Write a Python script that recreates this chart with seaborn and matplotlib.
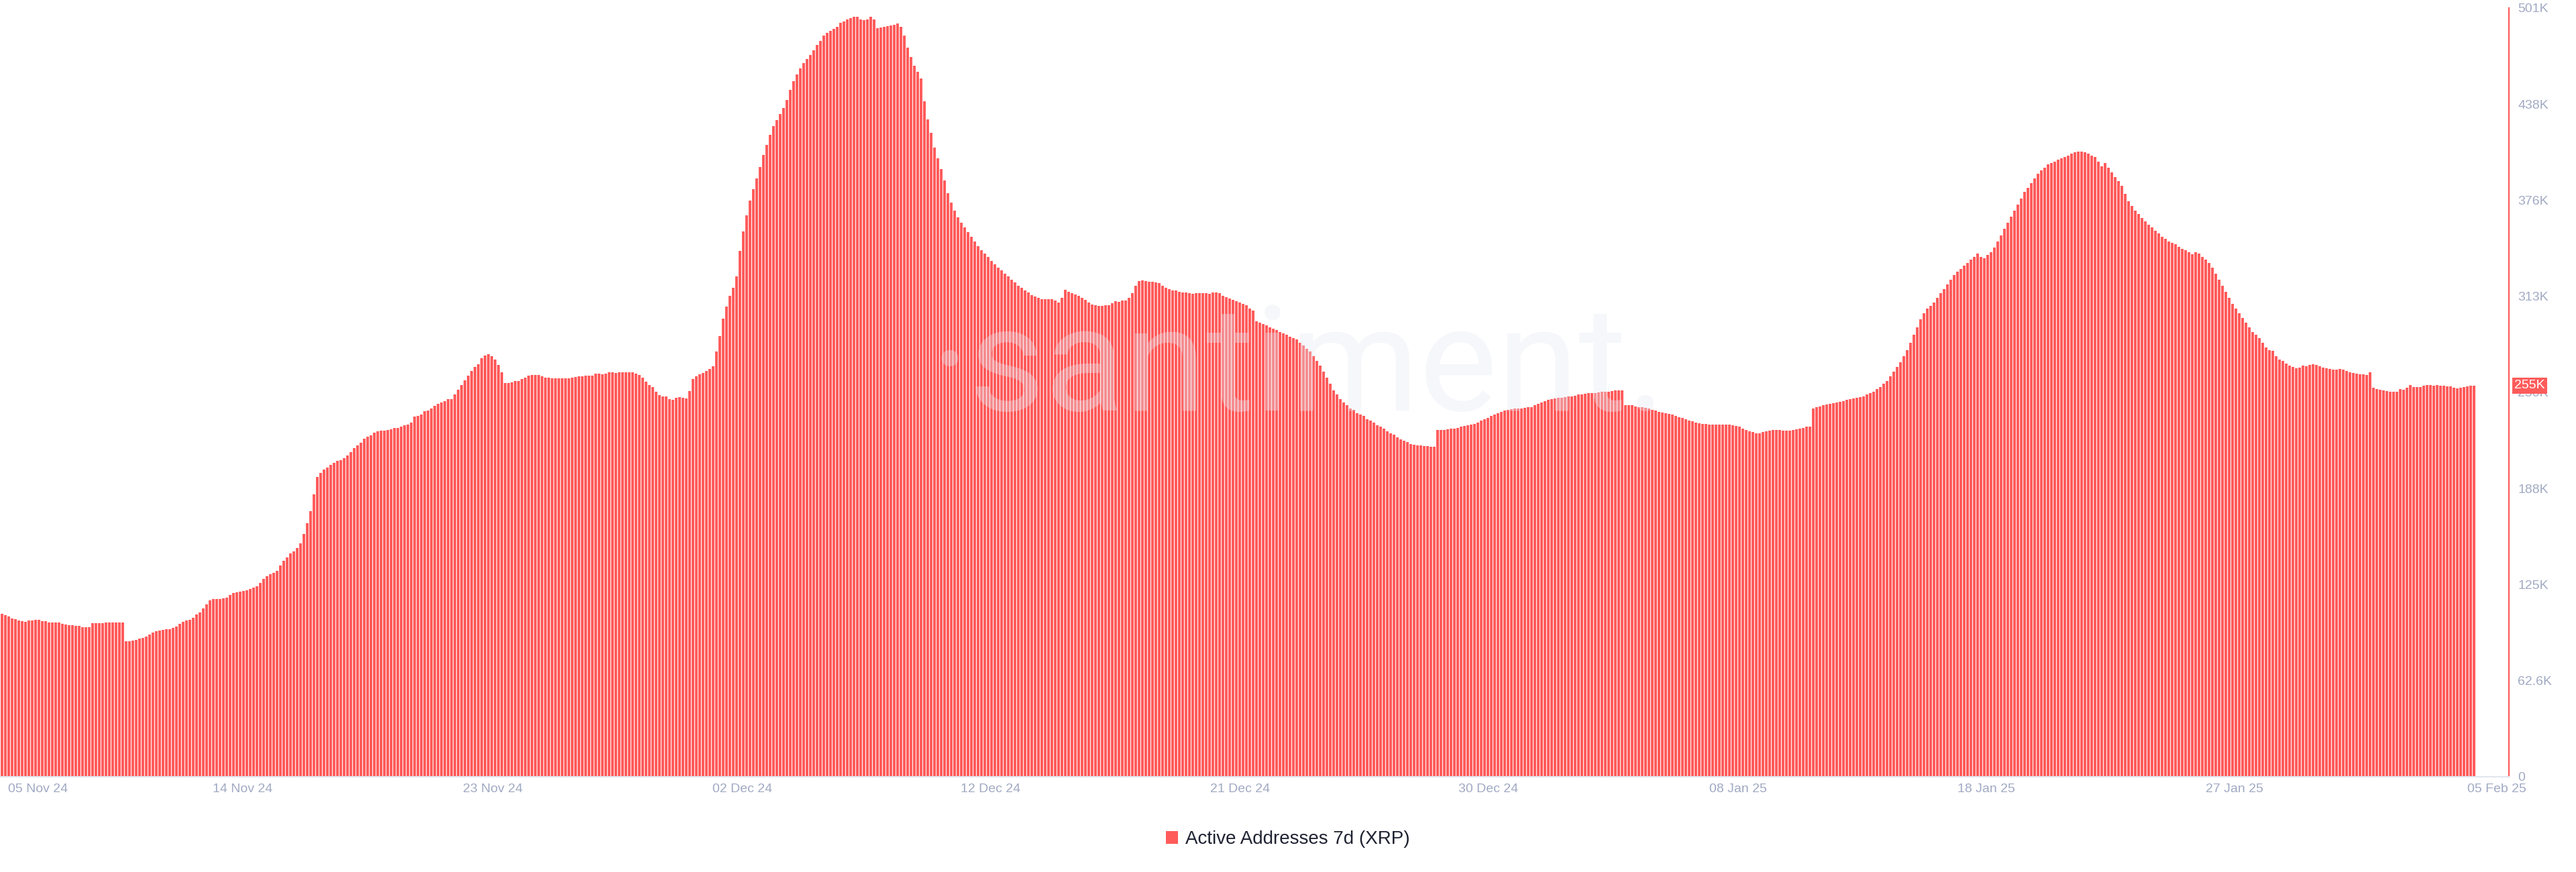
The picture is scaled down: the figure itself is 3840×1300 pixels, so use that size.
import numpy as np
import matplotlib
matplotlib.use('Agg')
import matplotlib.pyplot as plt
import matplotlib.transforms as mtransforms
from matplotlib.patches import Patch
import seaborn as sns

# Active addresses 7d (XRP), 3-hour bars, values in thousands
nov_early = [106.2, 105.5, 104.4, 103.3, 102.6, 101.7, 101.3, 100.8, 101.7, 102.0,
             102.1, 102.1, 101.4, 101.4, 100.6, 100.6, 100.7, 100.7, 99.8, 99.1,
             98.7, 98.8, 98.4, 98.4, 97.6, 97.6, 97.6, 100.0, 100.0, 100.0,
             100.3, 100.4, 100.4, 100.4, 100.4, 100.4, 100.7, 88.3, 88.4, 88.9,
             89.3, 89.9, 90.5, 91.5, 92.7, 94.1, 94.9, 95.5, 95.9, 96.0,
             96.3, 96.9, 98.1, 99.7, 101.0, 101.7, 102.4, 103.6, 105.8, 107.1,
             109.9, 112.5, 114.8]
nov_mid = [115.7, 115.7, 115.7, 116.3, 116.9, 118.6, 119.8, 120.1, 120.8, 121.2,
           121.7, 122.3, 123.3, 124.0, 126.2, 129.0, 130.6, 131.9, 133.1, 134.2,
           137.9, 140.9, 143.1, 145.4, 146.8, 149.2, 152.3, 158.3, 165.1, 173.3,
           184.2, 195.6, 198.2, 200.1, 201.7, 203.4, 204.5, 205.8, 206.4, 207.7,
           209.6, 211.5, 214.2, 215.8, 217.9, 220.2, 221.8, 222.7, 224.2, 225.2,
           225.6, 225.5, 226.2, 226.6, 227.5, 227.5, 228.1, 229.0, 229.7, 230.8,
           234.6, 235.1]
nov_late = [236.1, 238.1, 238.9, 239.9, 241.6, 243.1, 244.0, 244.8, 246.3, 246.3,
            249.2, 252.3, 255.3, 258.4, 261.6, 264.5, 267.1, 268.9, 272.8, 274.6,
            275.4, 274.0, 272.1, 268.6, 263.5, 256.8, 256.8, 257.1, 257.8, 258.0,
            259.1, 260.3, 261.3, 262.0, 261.9, 261.7, 261.0, 260.1, 260.0, 259.7,
            259.7, 259.5, 259.7, 259.7, 259.7, 260.3, 260.6, 261.0, 261.0, 261.3,
            261.3, 261.6, 262.6, 262.9, 262.3, 262.9, 263.5, 263.5, 263.2, 263.4,
            263.5, 263.5]
dec_rise = [263.5, 263.6, 262.6, 262.0, 260.0, 257.4, 255.5, 253.9, 250.8, 248.6,
            247.9, 247.9, 246.0, 245.7, 246.9, 247.5, 246.9, 246.4, 251.3, 259.1,
            261.0, 262.2, 263.2, 264.5, 265.7, 267.7, 277.2, 287.2, 298.5, 306.3,
            313.6, 318.9, 326.2, 342.8, 355.3, 365.8, 375.4, 383.0, 390.0, 397.3,
            405.3, 412.0, 418.3, 424.0, 428.0, 432.1, 435.9, 441.0, 447.7, 453.4,
            457.9, 461.8, 465.0, 467.9, 470.3, 473.3, 476.8, 479.7, 483.0, 484.9,
            486.0]
dec_peak = [487.3, 488.7, 491.4, 492.3, 493.5, 494.5, 495.2, 495.2, 493.5, 493.0,
            493.5, 495.2, 493.5, 488.0, 488.3, 488.9, 489.4, 489.5, 490.2, 490.8,
            488.8, 483.2, 475.4, 469.0, 463.3, 459.5, 455.0, 440.3, 428.3, 419.6,
            410.2, 403.1, 396.0, 388.8, 380.4, 374.2, 369.0, 364.6, 361.0, 358.0,
            355.0, 352.0, 349.0, 346.0, 343.0, 341.0, 339.0, 336.0, 334.0, 332.0,
            330.0, 328.0, 326.0, 324.0, 322.0, 320.0, 318.5, 317.0, 315.5, 314.0,
            313.0, 312.0]
dec_mid = [311.4, 311.3, 311.4, 311.1, 310.4, 309.0, 312.2, 317.3, 316.0, 315.2,
           314.2, 313.3, 312.2, 310.8, 309.1, 307.8, 307.2, 306.9, 306.8, 307.4,
           307.5, 308.7, 310.1, 309.5, 310.2, 310.5, 312.0, 315.2, 320.2, 323.0,
           323.5, 323.1, 322.8, 322.5, 322.1, 321.6, 320.2, 318.7, 317.8, 317.1,
           316.8, 316.2, 315.8, 315.5, 315.1, 314.8, 315.1, 315.1, 315.1, 315.0,
           314.8, 315.5, 315.8, 315.1, 313.5, 312.6, 311.9, 310.8, 309.8, 309.2,
           308.2, 307.2]
dec_late = [305, 304, 297, 296, 295, 294, 293, 292, 291, 290,
            289, 288, 287, 286, 285, 283, 281, 279, 277, 274,
            271, 268, 264, 260, 256, 252, 249, 246, 244, 242,
            240, 239, 237, 236, 235, 233, 232, 231, 229, 228,
            227, 225, 224, 223, 221, 220, 219, 218, 217, 216.5,
            216, 216, 215.5, 215.5, 215, 215]
dec_end = [226, 226, 226, 226.5, 227, 227, 227.5, 228, 228.5, 229,
           229.5, 230, 231, 232, 233, 234, 235, 236, 237, 238,
           238.5, 239, 239.5, 240, 240, 240, 240.5, 241, 241, 242,
           243, 244, 245, 245.5, 246, 246.5, 247, 247, 247.5, 248,
           248, 248.5, 249, 249, 249.5, 250, 250, 250, 250.5, 251,
           251, 251, 251.5, 252, 252, 252]
jan_early = [242, 242, 242, 241.5, 241, 241, 240.5, 240, 239, 238.5,
             238, 237.5, 237, 236.5, 236, 235, 234.5, 234, 233, 232,
             231.5, 231, 230.5, 230, 230, 229.5, 229.5, 229.5, 229.5, 229.5,
             229.5, 229.5, 229, 228.5, 228, 227, 226, 225, 224.5, 224,
             224, 224.5, 225, 225.5, 226, 226, 226, 225.5, 225.5, 225.5,
             226, 226.5, 227, 227.5, 228, 228]
jan_rise = [240, 241, 241.5, 242, 242.5, 243, 243.5, 244, 244.5, 245,
            245.5, 246, 246.5, 247, 247.5, 248, 249, 250, 251, 252.5,
            254, 256, 258, 261, 264, 267, 270, 274, 278, 283,
            288, 293, 298, 302, 305, 307, 309, 312, 315, 318,
            321, 324, 327, 329, 331, 333, 335, 337, 339, 341,
            339, 338, 340, 342, 345, 349, 353, 357, 361, 365,
            369, 373, 377, 381, 384, 387, 390, 393, 395, 397,
            399, 400, 401, 402, 403, 404, 405, 406, 407, 407.5,
            407.5, 407, 406, 405, 404, 401, 398]
jan_fall = [400, 397, 394, 391, 388, 385, 380, 375, 372, 369,
            367, 364, 362, 360, 358, 356, 354, 352, 350.5, 349,
            348, 347, 345.5, 344, 343, 342, 340.5, 342, 341, 339,
            337, 335, 332, 328, 324, 320, 316, 312, 308, 305,
            302, 299, 296, 293, 290, 288]
feb_tail = [285.8, 283.0, 279.7, 278.1, 277.5, 274.0, 271.9, 271.1, 269.3, 268.0,
            267.1, 266.3, 266.7, 267.9, 267.6, 268.3, 268.9, 268.3, 267.6, 266.8,
            266.4, 265.8, 265.2, 265.2, 265.7, 265.2, 264.5, 263.8, 263.3, 262.6,
            262.3, 262.3, 261.7, 263.6, 253.4, 252.7, 252.4, 251.8, 251.3, 251.0,
            250.8, 250.8, 252.7, 252.1, 253.6, 255.3, 254.1, 254.1, 254.1, 254.7,
            255.3, 255.3, 255.0, 255.2, 254.9, 254.7, 254.6, 254.3, 253.6, 253.0,
            253.4, 253.9, 254.3, 254.9, 254.7]

date_labels = ['05 Nov 24', '14 Nov 24', '23 Nov 24', '02 Dec 24', '12 Dec 24', '21 Dec 24',
               '30 Dec 24', '08 Jan 25', '18 Jan 25', '27 Jan 25', '05 Feb 25']
ytick_labels = ['0', '62.6K', '125K', '188K', '250K', '313K', '376K', '438K', '501K']
y_max = 501000
last_label = '255K'
series_name = 'Active Addresses 7d (XRP)'

RED = '#ff5b5b'
GREY = '#a1aac4'

segments = [nov_early, nov_mid, nov_late, dec_rise, dec_peak, dec_mid, dec_late,
            dec_end, jan_early, jan_rise, jan_fall, feb_tail]
values = np.concatenate([np.array(s, dtype=float) for s in segments]) * 1000
idx = np.arange(len(values))

sns.set_style('white')
plt.rcParams['font.family'] = ['Liberation Sans', 'DejaVu Sans']

W, H = 3840, 1300
fig = plt.figure(figsize=(W / 100, H / 100), dpi=100)
ax_left, ax_right, ax_top, ax_bottom = 0, 3740, 12, 1158
ax = fig.add_axes([ax_left / W, 1 - ax_bottom / H, (ax_right - ax_left) / W, (ax_bottom - ax_top) / H])

sns.barplot(x=idx, y=values, color=RED, saturation=1, width=0.8,
            linewidth=0, errorbar=None, ax=ax)

# 5 px per bar slot; offset so every bar edge sits on a whole pixel
n_slots = (ax_right - ax_left) / 5
ax.set_xlim(-0.6, n_slots - 0.6)
ax.set_ylim(0, y_max)

tick_px = [57, 362, 735, 1107, 1477, 1849, 2219, 2591, 2961, 3331, 3722]
ax.set_xticks([p / 5 - 0.6 for p in tick_px])
ax.set_xticklabels(date_labels)
ax.set_yticks(np.linspace(0, y_max, len(ytick_labels)))
ax.set_yticklabels(ytick_labels)
ax.yaxis.tick_right()
ax.tick_params(axis='x', length=0, pad=7, labelsize=14, labelcolor=GREY)
ax.tick_params(axis='y', length=0, pad=9.5, labelsize=14, labelcolor=GREY)
ax.set_xlabel('')
ax.set_ylabel('')

for s in ['top', 'left']:
    ax.spines[s].set_visible(False)
ax.spines['right'].set_color(RED)
ax.spines['right'].set_linewidth(1.6)
ax.spines['bottom'].set_color('#e2e6ef')
ax.spines['bottom'].set_linewidth(1.5)

# last value badge on the right axis
trans = mtransforms.blended_transform_factory(ax.transAxes, ax.transData)
ax.text(1 + 8 / (ax_right - ax_left), values[-1] + 300, last_label, transform=trans,
        ha='left', va='center', color='white', fontsize=14, clip_on=False, zorder=10,
        bbox=dict(boxstyle='square,pad=0.18', fc=RED, ec='none'))

# watermark
fig.text(1935 / W, 1 - 553 / H, '\u00b7santiment.', ha='center', va='center',
         fontsize=158, color='#e6e9f3', alpha=0.36, family=['Roboto', 'DejaVu Sans'],
         zorder=20)

fig.legend(handles=[Patch(facecolor=RED, edgecolor='none')], labels=[series_name],
           loc='center', bbox_to_anchor=(0.5, 1 - 1251 / H), frameon=False,
           fontsize=20, handlelength=0.65, handleheight=0.65, handletextpad=0.4,
           labelcolor='#1f2231')

fig.savefig('out.png', dpi=100, facecolor='white')
